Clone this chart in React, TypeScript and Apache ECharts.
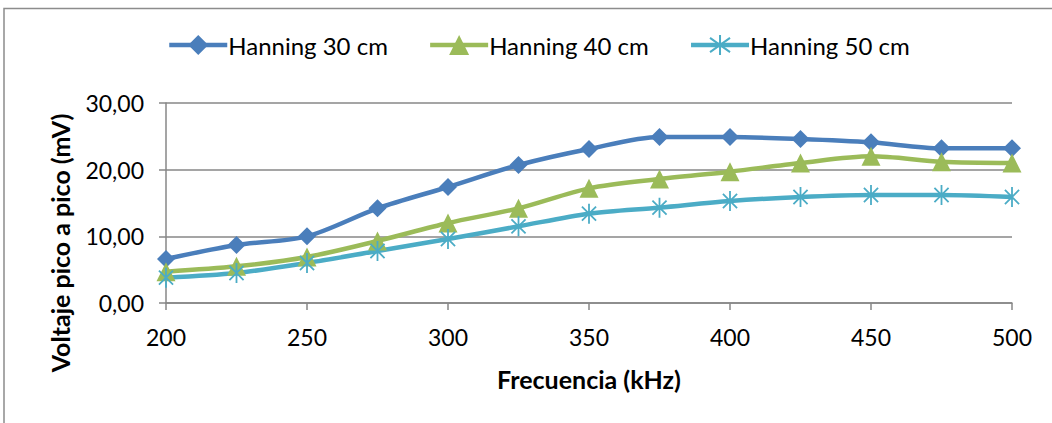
import React, { useEffect, useRef } from "react";
import * as echarts from "echarts";

// Frequency sweep (kHz) and peak-to-peak voltage (mV) for each Hanning window distance
const frequencies = [200, 225, 250, 275, 300, 325, 350, 375, 400, 425, 450, 475, 500];
const hanning30 = [6.6, 8.7, 10.0, 14.2, 17.4, 20.7, 23.1, 24.9, 24.9, 24.6, 24.1, 23.2, 23.2];
const hanning40 = [4.7, 5.5, 6.9, 9.3, 12.0, 14.2, 17.2, 18.6, 19.7, 21.0, 22.0, 21.2, 21.0];
const hanning50 = [3.8, 4.5, 6.0, 7.8, 9.6, 11.5, 13.4, 14.3, 15.3, 15.9, 16.2, 16.2, 15.9];
const seriesNames = ["Hanning 30 cm", "Hanning 40 cm", "Hanning 50 cm"];
const xTitle = "Frecuencia (kHz)";
const yTitle = "Voltaje pico a pico (mV)";

const FONT = "Lato, 'Open Sans', sans-serif";
const GRAY = "#878787";
const STAR = "path://M10,0L10,20M2.93,2.93L17.07,17.07M2.93,17.07L17.07,2.93";

const pairs = (ys: number[]) => frequencies.map((f, i) => [f, ys[i]]);

export default function App() {
  const ref = useRef<HTMLDivElement>(null);

  useEffect(() => {
    document.body.style.margin = "0";
    if (!ref.current) return;
    const chart = echarts.init(ref.current, undefined, { renderer: "svg" });
    chart.setOption({
      animation: false,
      backgroundColor: "#ffffff",
      textStyle: { fontFamily: FONT, color: "#000" },
      legend: {
        left: 162,
        top: 28,
        itemWidth: 58,
        itemHeight: 25,
        itemGap: 40,
        lineStyle: { width: 4.5 },
        textStyle: { fontFamily: FONT, fontSize: 24, color: "#000", padding: [0, 0, 0, -4] },
        data: seriesNames,
      },
      grid: { left: 166, right: 40, top: 103, bottom: 120, containLabel: false },
      xAxis: {
        type: "value",
        min: 200,
        max: 500,
        interval: 50,
        axisLine: { show: true, lineStyle: { color: GRAY, width: 1.5 } },
        axisTick: { show: true, inside: false, length: 7, lineStyle: { color: GRAY, width: 1.5 } },
        splitLine: { show: false },
        axisLabel: { fontFamily: FONT, fontSize: 23, color: "#000", margin: 22 },
      },
      yAxis: {
        type: "value",
        min: 0,
        max: 30,
        interval: 10,
        axisLine: { show: true, lineStyle: { color: GRAY, width: 1.5 } },
        axisTick: { show: true, inside: false, length: 7, lineStyle: { color: GRAY, width: 1.5 } },
        splitLine: { show: true, lineStyle: { color: GRAY, width: 1.5 } },
        axisLabel: {
          fontFamily: FONT,
          fontSize: 23,
          color: "#000",
          margin: 22,
          formatter: (v: number) => v.toFixed(2).replace(".", ","),
        },
      },
      graphic: [
        {
          type: "rect",
          shape: { x: 4, y: 8.5, width: 1200, height: 600 },
          style: { fill: "none", stroke: "#8c8c8c", lineWidth: 1.5 },
          silent: true,
        },
        {
          type: "text",
          x: 589,
          y: 379,
          style: {
            text: xTitle,
            fontFamily: FONT,
            fontSize: 25,
            fontWeight: "bold",
            fill: "#000",
            align: "center",
            verticalAlign: "middle",
          },
        },
        {
          type: "text",
          x: 60,
          y: 243,
          rotation: Math.PI / 2,
          style: {
            text: yTitle,
            fontFamily: FONT,
            fontSize: 25,
            fontWeight: "bold",
            fill: "#000",
            align: "center",
            verticalAlign: "middle",
          },
        },
      ],
      series: [
        {
          name: seriesNames[0],
          type: "line",
          smooth: 0.3,
          data: pairs(hanning30),
          symbol: "diamond",
          symbolSize: 18,
          lineStyle: { color: "#4A7EBB", width: 4.5 },
          itemStyle: { color: "#4A7EBB", borderColor: "#4A7EBB", borderWidth: 0 },
        },
        {
          name: seriesNames[1],
          type: "line",
          smooth: 0.3,
          data: pairs(hanning40),
          symbol: "triangle",
          symbolSize: 19,
          lineStyle: { color: "#9BBB59", width: 4.5 },
          itemStyle: { color: "#9BBB59", borderColor: "#9BBB59", borderWidth: 0 },
        },
        {
          name: seriesNames[2],
          type: "line",
          smooth: 0.3,
          data: pairs(hanning50),
          symbol: STAR,
          symbolSize: 20,
          symbolKeepAspect: true,
          lineStyle: { color: "#4BACC6", width: 4.5 },
          itemStyle: { color: "#4BACC6", borderColor: "#4BACC6", borderWidth: 1.8 },
        },
      ],
    });
    return () => chart.dispose();
  }, []);

  return <div ref={ref} style={{ width: 1052, height: 423 }} />;
}
